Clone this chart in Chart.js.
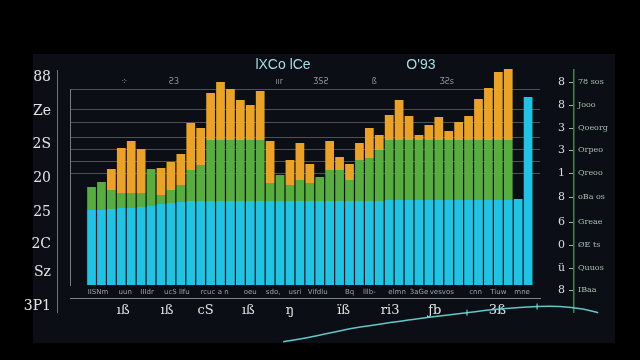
<!DOCTYPE html>
<html><head><meta charset="utf-8">
<script src="https://cdn.jsdelivr.net/npm/chart.js@4.4.1/dist/chart.umd.min.js"></script>
<style>
html,body{margin:0;padding:0;background:#000;width:640px;height:360px;overflow:hidden}
#panel{position:absolute;left:33px;top:54px;width:582px;height:289px;background:#0b0f15}
canvas{position:absolute;left:0;top:0}
#c2{pointer-events:none}
</style></head><body>
<div id="panel"></div>
<canvas id="c1" width="640" height="360"></canvas>
<canvas id="c2" width="640" height="360"></canvas>
<script>
// ---- data ----
const categories = [0,1,2,3,4,5,6,7,8,9,10,11,12,13,14,15,16,17,18,19,20,21,22,23,24,25,26,27,28,29,30,31,32,33,34,35,36,37,38,39,40,41,42,43,44];
const cyanValues = [37.5,37.5,38,38.5,38.5,39,39.5,40.5,41,41.5,
  42,42,42,42,42,42,42,42,42,42,42,42,42,42,42,42,42,42,42,42,
  42.5,42.5,42.5,42.5,42.5,42.5,42.5,42.5,42.5,42.5,42.5,42.5,42.5,
  43,94];
const greenValues = [11.5,14,9.5,7.5,7.5,7,18.5,4.5,6.5,8.5,
  15.5,18,30.5,30.5,30.5,30.5,30.5,30.5,9,13,8,10.5,9,12,15.5,15.5,10.5,20.5,21.5,25.5,
  30,30,30,30,30,30,30,30,30,30,30,30,30,
  0,0];
const orangeValues = [0,0,10.5,22.5,26,22,0,13.5,14,15.5,
  23.5,18.5,23.5,29,25.5,20,17.5,24.5,21,0,12.5,18.5,9.5,0,14.5,6.5,8,8.5,15,7.5,
  12.5,20,12,2.5,7.5,11.5,4.5,9,12,20.5,26,34,35.5,
  0,0];
const gridValues = [98,88,81.5,74,68,62,56];

const smallLabels = ["IISNm","uun","IIIdr","ucS llfu","rcuc a n","oeu","sdo,","usri","Vifdlu","Bq","lllb-","elmn","3aGe","vesvos","cnn","Tiuw","mne"];
const smallPos = [0.65,3.4,5.6,8.6,12.4,16,18.3,20.5,22.8,26,28,30.8,33,35.3,38.7,41,43.4];
const bigLabels = ["ıß","ıß","cS","ıß","ŋ","ïß","ri3","ƒb","3ß"];
const bigPos = [3.2,7.6,11.5,15.8,20,25.4,30.1,34.6,40.9];
const titleLabels = ["lXCo lCe","O'93"];
const titlePos = [19.3,33.2];
const topSmallLabels = ["⁘","Ƨ3","ıır","ƷSƧ","ß","ƷƧs"];
const topSmallPos = [3.3,8.3,18.9,23.1,28.5,35.8];

const leftLabels = ["88","Ze","2S","20","25","2C","Sz","3P1"];
const leftPos = [235,201,168,134,100,68,40,6];
const rightNums = ["8","8","3","3","1","8","6","0","ü","8"];
const rightNames = ["78 sos","Jooo","Qoeorg","Orpeo","Qreoo","oBa os","Greae","ØE ts","Quuos","IBaa"];
const rightPos = [230.3,207,183.7,162,138.7,115.3,90.3,67,43.7,22];

const curveX = [45.5,48.9,54.9,61,71.6,82.5,89.1,96.6,101.2,105.8,108.9];
const curveY = [10.3,13,19,25,32.5,39.3,43,45.5,45.5,43,39.3];

// ---- helpers ----
const fixed = (pos) => (s) => { s.ticks = pos.map(v => ({value: v})); };
const XMIN = -2.17, XMAX = 45.2;

new Chart(document.getElementById('c1'), {
  type: 'bar',
  data: {
    labels: categories,
    datasets: [
      {label:'base', data: cyanValues, backgroundColor:'#1fc4e4', clip:false},
      {label:'mid', data: greenValues, backgroundColor:'#57ad3e', clip:false},
      {label:'top', data: orangeValues, backgroundColor:'#eca325', clip:false}
    ]
  },
  options: {
    responsive:false, animation:false, devicePixelRatio:1,
    layout:{padding:{left:70,right:100,top:58,bottom:37}},
    datasets:{bar:{barPercentage:0.88,categoryPercentage:1,borderWidth:0}},
    plugins:{legend:{display:false},tooltip:{enabled:false},title:{display:false}},
    scales:{
      x:{type:'linear',position:'bottom',min:XMIN,max:XMAX,offset:false,stacked:true,weight:0,
        grid:{display:false,drawTicks:false,offset:false},border:{display:false},
        afterBuildTicks:fixed(smallPos),afterFit:s=>{s.height=13;},
        ticks:{autoSkip:false,maxRotation:0,padding:3,color:'#9aa2a9',font:{size:7,family:'DejaVu Sans'},callback:(v,i)=>smallLabels[i]}},
      x2:{type:'linear',position:'bottom',min:XMIN,max:XMAX,offset:false,weight:1,
        grid:{display:false,drawTicks:false,offset:false},border:{display:true,color:'#7d858c',width:1},
        afterBuildTicks:fixed(bigPos),afterFit:s=>{s.height=25;},
        ticks:{autoSkip:false,maxRotation:0,padding:5,color:'#e2e2e2',font:{size:13,family:'DejaVu Serif'},callback:(v,i)=>bigLabels[i]}},
      xTop:{type:'linear',position:'top',min:XMIN,max:XMAX,offset:false,weight:0,
        grid:{display:false,drawTicks:false,offset:false},border:{display:false},
        afterBuildTicks:fixed(topSmallPos),afterFit:s=>{s.height=15;},
        ticks:{autoSkip:false,maxRotation:0,padding:2,color:'#8e969d',font:{size:8,family:'DejaVu Sans'},callback:(v,i)=>topSmallLabels[i]}},
      xTop2:{type:'linear',position:'top',min:XMIN,max:XMAX,offset:false,weight:1,
        grid:{display:false,drawTicks:false,offset:false},border:{display:false},
        afterBuildTicks:fixed(titlePos),afterFit:s=>{s.height=16;},
        ticks:{autoSkip:false,maxRotation:0,padding:0,color:'#a6dbe3',font:{size:14,family:'Liberation Sans'},callback:(v,i)=>titleLabels[i]}},
      y:{type:'linear',position:'left',min:0,max:98,stacked:true,weight:0,
        grid:{color:'#4b5258',lineWidth:1,drawTicks:false},border:{display:true,color:'#767d84'},
        afterBuildTicks:fixed(gridValues),afterFit:s=>{s.width=0;},
        ticks:{display:false}}
    }
  }
});

new Chart(document.getElementById('c2'), {
  type:'line',
  data:{datasets:[{label:'trend',data:curveX.map((x,i)=>({x:x,y:curveY[i]})),xAxisID:'x',yAxisID:'yc',clip:false,
    borderColor:'#63c7ca',borderWidth:1.5,tension:0.4,fill:false,
    pointStyle:'line',pointRotation:90,pointRadius:3,pointBorderColor:'#9be3e3',pointBorderWidth:1}]},
  options:{
    responsive:false, animation:false, devicePixelRatio:1,
    layout:{padding:{left:0,right:26,top:70,bottom:48}},
    plugins:{legend:{display:false},tooltip:{enabled:false}},
    scales:{
      x:{type:'linear',display:false,bounds:'data',afterDataLimits:s=>{s.min=0;s.max=100;}},
      yc:{type:'linear',display:false,bounds:'data',afterDataLimits:s=>{s.min=40;s.max=282;}},
      y:{type:'linear',position:'left',min:0,max:242,weight:0,
        grid:{display:false,drawTicks:false},border:{display:true,color:'#6e767d'},
        afterBuildTicks:fixed(leftPos),afterFit:s=>{s.width=57;},
        ticks:{autoSkip:false,padding:6,color:'#e4e4e4',font:{size:14,family:'DejaVu Serif'},callback:(v,i)=>leftLabels[i]}},
      yR1:{type:'linear',position:'right',min:0,max:242,weight:0,
        grid:{display:false,drawTicks:false},border:{display:false},
        afterBuildTicks:fixed(rightPos),afterFit:s=>{s.width=20;},
        ticks:{autoSkip:false,padding:0,crossAlign:'far',color:'#dcdcdc',font:{size:11,family:'DejaVu Serif'},callback:(v,i)=>rightNums[i]+' –'}},
      yR2:{type:'linear',position:'right',min:0,max:242,weight:1,
        grid:{display:false,drawTicks:false},border:{display:true,color:'#2f8f44',width:1.5},
        afterBuildTicks:fixed(rightPos),afterFit:s=>{s.width=40;},
        ticks:{autoSkip:false,padding:4,color:'#a9bcac',font:{size:8,family:'DejaVu Serif'},callback:(v,i)=>rightNames[i]}}
    }
  }
});
</script>
</body></html>
